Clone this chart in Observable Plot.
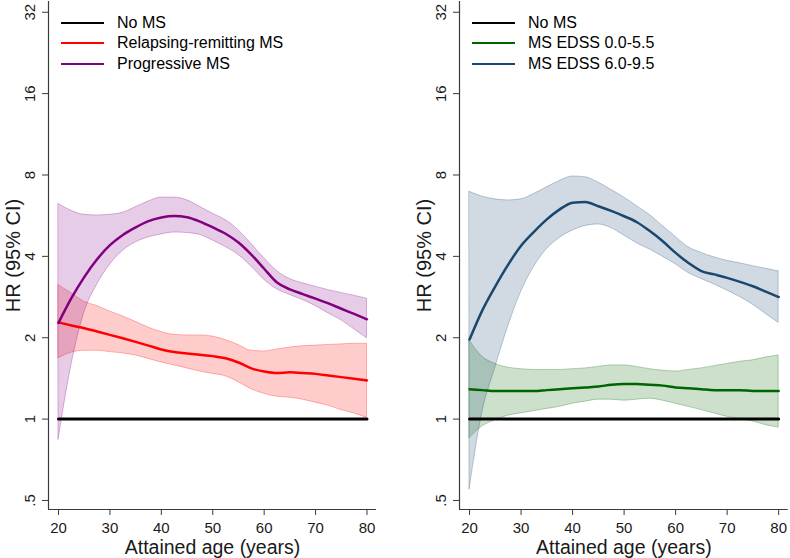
<!DOCTYPE html>
<html><head><meta charset="utf-8">
<script src="https://cdn.jsdelivr.net/npm/d3@7"></script>
<script src="https://cdn.jsdelivr.net/npm/@observablehq/plot@0.6"></script>
<style>
body{margin:0;background:#fff;font-family:"Liberation Sans",Arial,sans-serif;}
#wrap{display:flex;width:790px;height:558px;overflow:hidden;}
.panel{position:relative;width:395px;height:558px;flex:none;}
.legend{position:absolute;top:0;left:0;font-size:16px;color:#000;}
.row{position:absolute;display:flex;align-items:center;height:20px;white-space:nowrap;}
.sw{display:inline-block;width:43px;height:2px;margin-right:13px;}
</style></head><body><div id="wrap"></div><script>
// ---- data ----
const ages = [20,22.5,25,27.5,30,32.5,35,37.5,40,42.5,45,47.5,50,52.5,55,57.5,60,62.5,65,67.5,70,72.5,75,77.5,80];

const progEst = [2.27,2.8,3.35,3.9,4.4,4.8,5.12,5.4,5.57,5.64,5.58,5.38,5.12,4.85,4.5,4.06,3.6,3.2,3.02,2.9,2.79,2.68,2.56,2.45,2.34];
const progHi  = [6.25,5.9,5.7,5.67,5.7,5.8,6.08,6.38,6.6,6.6,6.45,6.1,5.75,5.45,5.0,4.45,3.94,3.53,3.3,3.18,3.09,3.0,2.93,2.86,2.79];
const progLo  = [0.84,1.58,2.47,3.14,3.72,4.19,4.5,4.7,4.82,4.9,4.88,4.8,4.58,4.33,4.05,3.67,3.28,3.02,2.88,2.76,2.62,2.46,2.32,2.15,1.99];

const rrEst = [2.28,2.22,2.17,2.11,2.05,1.99,1.93,1.87,1.81,1.77,1.75,1.73,1.71,1.68,1.62,1.54,1.5,1.48,1.49,1.48,1.47,1.45,1.43,1.41,1.39];
const rrHi  = [3.13,2.92,2.72,2.62,2.5,2.4,2.29,2.18,2.1,2.05,2.04,2.04,2.02,1.96,1.88,1.79,1.78,1.81,1.84,1.86,1.87,1.88,1.89,1.9,1.9];
const rrLo  = [1.68,1.76,1.79,1.79,1.77,1.75,1.72,1.67,1.62,1.58,1.54,1.5,1.47,1.44,1.37,1.29,1.24,1.21,1.2,1.18,1.15,1.12,1.08,1.05,1.01];

const edssHighEst = [1.97,2.53,3.1,3.73,4.38,4.93,5.48,5.97,6.32,6.36,6.13,5.89,5.63,5.35,4.96,4.55,4.12,3.78,3.53,3.43,3.33,3.22,3.1,2.96,2.83];
const edssHighHi  = [6.93,6.65,6.5,6.44,6.5,6.8,7.2,7.6,7.9,7.85,7.5,7.05,6.6,6.13,5.69,5.18,4.72,4.32,4.12,3.97,3.85,3.77,3.68,3.6,3.52];
const edssHighLo  = [0.55,1.06,1.55,2.2,2.95,3.65,4.25,4.68,4.98,5.18,5.25,5.09,4.78,4.47,4.24,3.99,3.74,3.47,3.3,3.15,2.99,2.83,2.65,2.45,2.27];

const edssLowEst = [1.29,1.28,1.27,1.27,1.27,1.27,1.28,1.29,1.3,1.31,1.32,1.34,1.35,1.35,1.34,1.33,1.31,1.3,1.29,1.28,1.28,1.28,1.27,1.27,1.27];
const edssLowHi  = [1.95,1.7,1.6,1.55,1.53,1.52,1.52,1.52,1.53,1.54,1.56,1.58,1.58,1.56,1.53,1.51,1.5,1.52,1.54,1.57,1.6,1.63,1.65,1.69,1.72];
const edssLowLo  = [0.85,0.94,0.99,1.03,1.05,1.07,1.09,1.11,1.14,1.16,1.18,1.18,1.17,1.18,1.19,1.17,1.14,1.11,1.08,1.05,1.02,1.0,0.98,0.95,0.93];

const noMsAges = [20, 80];
const noMsHR = [1, 1];

const yTicks = [0.5, 1, 2, 4, 8, 16, 32];
const yTickLabels = [".5", "1", "2", "4", "8", "16", "32"];
const xTicks = [20, 30, 40, 50, 60, 70, 80];
const yTitle = "HR (95% CI)";
const xTitle = "Attained age (years)";

const leftLegend = ["No MS", "Relapsing-remitting MS", "Progressive MS"];
const rightLegend = ["No MS", "MS EDSS 0.0-5.5", "MS EDSS 6.0-9.5"];

// ---- scales ----
const xDomain = [18.05, 81.85];
const yDomain = [0.463, 35.07];
const FONT = "Liberation Sans, Arial, sans-serif";

const rows = (est, lo, hi) => ages.map((a, i) => ({age: a, est: est[i], lo: lo[i], hi: hi[i]}));
const noMsRows = noMsAges.map((a, i) => ({age: a, hr: noMsHR[i]}));

function panel({marginLeft, marginRight, series, legend}) {
  const div = document.createElement("div");
  div.className = "panel";
  const marks = [];
  for (const s of series) {
    marks.push(Plot.areaY(s.rows, {x: "age", y1: "lo", y2: "hi", fill: s.color, fillOpacity: 0.2,
      stroke: s.color, strokeOpacity: 0.28, strokeWidth: 1, curve: "monotone-x"}));
  }
  marks.push(Plot.lineY(noMsRows, {x: "age", y: "hr", stroke: "#000", strokeWidth: 3}));
  for (const s of series) {
    marks.push(Plot.lineY(s.rows, {x: "age", y: "est", stroke: s.color, strokeWidth: 2.5, curve: "monotone-x"}));
  }
  marks.push(Plot.ruleX([xDomain[0]], {stroke: "#3a3a3a", strokeWidth: 1.2}));
  marks.push(Plot.ruleY([yDomain[0]], {stroke: "#3a3a3a", strokeWidth: 1.2}));
  marks.push(Plot.axisY({ticks: yTicks, tickFormat: d => yTickLabels[yTicks.indexOf(d)],
    tickSize: 6, tickPadding: 12, tickRotate: -90, textAnchor: "middle", lineAnchor: "middle",
    fontSize: 15, label: null, stroke: "#3a3a3a"}));
  marks.push(Plot.axisX({ticks: xTicks, tickSize: 6, tickPadding: 7, fontSize: 15, label: null, stroke: "#3a3a3a"}));
  marks.push(Plot.text([yTitle], {text: d => d, frameAnchor: "left", dx: -35, rotate: -90,
    textAnchor: "middle", lineAnchor: "middle", fontSize: 20, fill: "#1a1a1a"}));
  marks.push(Plot.text([xTitle], {text: d => d, frameAnchor: "bottom", dy: 38,
    textAnchor: "middle", lineAnchor: "middle", fontSize: 19.5, fill: "#1a1a1a"}));

  const svg = Plot.plot({
    width: 395, height: 558,
    marginLeft, marginRight, marginTop: 1, marginBottom: 49,
    style: {fontFamily: FONT, fontSize: "15px", color: "#1a1a1a", background: "transparent", overflow: "visible"},
    x: {domain: xDomain},
    y: {type: "log", base: 2, domain: yDomain},
    marks
  });
  div.append(svg);

  const lg = document.createElement("div");
  lg.className = "legend";
  const colors = ["#000"].concat(series.map(s => s.color));
  const centers = [22.7, 43.3, 64.3];
  legend.forEach((label, i) => {
    const r = document.createElement("div");
    r.className = "row";
    r.style.left = (marginLeft + 13) + "px";
    r.style.top = (centers[i] - 10) + "px";
    const sw = document.createElement("span");
    sw.className = "sw";
    sw.style.background = colors[i];
    const t = document.createElement("span");
    t.textContent = label;
    r.append(sw, t);
    lg.append(r);
  });
  div.append(lg);
  return div;
}

const wrap = document.getElementById("wrap");
wrap.append(panel({
  marginLeft: 48, marginRight: 19,
  series: [
    {rows: rows(rrEst, rrLo, rrHi), color: "#ff0000"},
    {rows: rows(progEst, progLo, progHi), color: "#800080"}
  ],
  legend: leftLegend
}));
wrap.append(panel({
  marginLeft: 64, marginRight: 2.3,
  series: [
    {rows: rows(edssLowEst, edssLowLo, edssLowHi), color: "#006400"},
    {rows: rows(edssHighEst, edssHighLo, edssHighHi), color: "#1a476f"}
  ],
  legend: rightLegend
}));
</script></body></html>
